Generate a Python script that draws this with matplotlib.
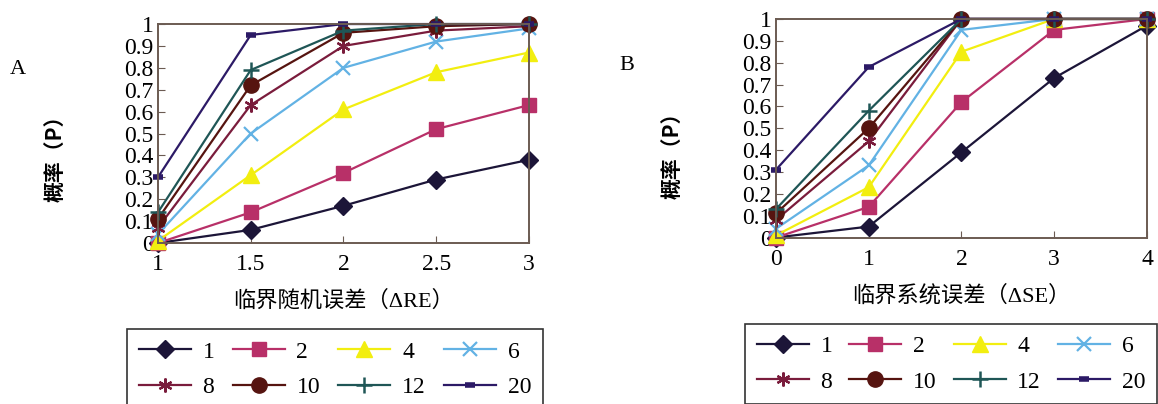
import numpy as np
import matplotlib.pyplot as plt
import matplotlib as mpl

# -----------------------
# Data
# -----------------------
SERIES = ["1", "2", "4", "6", "8", "10", "12", "20"]

X_RE = [1, 1.5, 2, 2.5, 3]
P_RE_1 = [0.0, 0.06, 0.17, 0.29, 0.38]
P_RE_2 = [0.0, 0.14, 0.32, 0.52, 0.63]
P_RE_4 = [0.01, 0.31, 0.61, 0.78, 0.87]
P_RE_6 = [0.04, 0.50, 0.80, 0.92, 0.98]
P_RE_8 = [0.07, 0.63, 0.90, 0.97, 0.99]
P_RE_10 = [0.11, 0.72, 0.96, 0.99, 1.0]
P_RE_12 = [0.14, 0.79, 0.97, 1.0, 1.0]
P_RE_20 = [0.30, 0.95, 1.0, 1.0, 1.0]

X_SE = [0, 1, 2, 3, 4]
P_SE_1 = [0.0, 0.05, 0.39, 0.73, 0.97]
P_SE_2 = [0.0, 0.14, 0.62, 0.95, 1.0]
P_SE_4 = [0.01, 0.23, 0.85, 1.0, 1.0]
P_SE_6 = [0.04, 0.33, 0.95, 1.0, 1.0]
P_SE_8 = [0.08, 0.44, 1.0, 1.0, 1.0]
P_SE_10 = [0.11, 0.50, 1.0, 1.0, 1.0]
P_SE_12 = [0.13, 0.58, 1.0, 1.0, 1.0]
P_SE_20 = [0.31, 0.78, 1.0, 1.0, 1.0]

RE_VALUES = [P_RE_1, P_RE_2, P_RE_4, P_RE_6, P_RE_8, P_RE_10, P_RE_12, P_RE_20]
SE_VALUES = [P_SE_1, P_SE_2, P_SE_4, P_SE_6, P_SE_8, P_SE_10, P_SE_12, P_SE_20]

# -----------------------
# Style
# -----------------------
COLORS = ["#1c1538", "#b83068", "#f2ee10", "#62b2e4",
          "#7a1c3c", "#561410", "#1f5656", "#2c1a66"]
MARKERS = ["D", "s", "^", "x", (6, 2, 0), "o", "+", "_"]
MSIZES = [9, 10, 11, 10, 10, 11, 12, 7]
MEW = [1, 1, 1, 1.6, 1.6, 1, 1.8, 4]
FRAME = "#6b5b52"

SERIF = ["Liberation Serif", "Noto Sans CJK SC"]
CJK = ["Noto Sans CJK SC", "Liberation Serif"]

mpl.rcParams.update({
    'font.family': SERIF,
    'font.size': 17,
    'xtick.direction': 'in',
    'ytick.direction': 'in',
    'xtick.major.size': 5,
    'ytick.major.size': 5,
    'xtick.color': FRAME,
    'ytick.color': FRAME,
    'xtick.labelcolor': 'black',
    'ytick.labelcolor': 'black',
})


def draw_panel(ax, x, values, xticks, xlabels):
    handles = []
    for vals, name, c, m, ms, mew in zip(values, SERIES, COLORS, MARKERS, MSIZES, MEW):
        h, = ax.plot(x, vals, color=c, lw=1.6, marker=m, ms=ms, mew=mew,
                     mec=c, mfc=c, clip_on=False, label=name)
        handles.append(h)
    ax.set_xlim(x[0], x[-1])
    ax.set_ylim(0, 1)
    ax.set_xticks(xticks)
    ax.set_xticklabels(xlabels)
    yt = np.round(np.arange(0, 1.01, 0.1), 1)
    ax.set_yticks(yt)
    ax.set_yticklabels(["0" if v == 0 else ("1" if v == 1 else f"{v:.1f}") for v in yt])
    ax.tick_params(axis='y', pad=3, labelsize=17)
    ax.tick_params(axis='x', pad=8, labelsize=17)
    for s in ax.spines.values():
        s.set_color(FRAME)
        s.set_linewidth(1.4)
    return handles


fig = plt.figure(figsize=(11.58, 4.04), dpi=100)
axA = fig.add_axes([0.1364, 0.3985, 0.3204, 0.542])
axB = fig.add_axes([0.6701, 0.4121, 0.3204, 0.541])

hA = draw_panel(axA, X_RE, RE_VALUES, X_RE, ["1", "1.5", "2", "2.5", "3"])
hB = draw_panel(axB, X_SE, SE_VALUES, X_SE, ["0", "1", "2", "3", "4"])

axA.set_xlabel("临界随机误差（ΔRE）", family=SERIF, fontsize=16, labelpad=11)
axB.set_xlabel("临界系统误差（ΔSE）", family=SERIF, fontsize=16, labelpad=11)

fig.text(55 / 1158, 1 - 153 / 404, "概率（P）", family=CJK, fontsize=15,
         fontweight='bold', rotation=90, ha='center', va='center')
fig.text(672 / 1158, 1 - 150 / 404, "概率（P）", family=CJK, fontsize=15,
         fontweight='bold', rotation=90, ha='center', va='center')
fig.text(18 / 1158, 1 - 70 / 404, "A", fontsize=16, ha='center', va='center')
fig.text(627 / 1158, 1 - 65 / 404, "B", fontsize=16, ha='center', va='center')

# legend is filled column by column; reorder so it reads row by row
ORDER = [0, 4, 1, 5, 2, 6, 3, 7]

for handles, box in [(hA, (127 / 1158, -0.02, 416 / 1158, 0.21)),
                     (hB, (745 / 1158, 0.0025, 412 / 1158, 0.193))]:
    leg = fig.legend(handles=[handles[i] for i in ORDER],
                     labels=[SERIES[i] for i in ORDER], ncol=4, loc='center',
                     bbox_to_anchor=box, mode='expand', fancybox=False,
                     edgecolor='black', handlelength=2.2, handletextpad=0.5,
                     labelspacing=0.6, borderaxespad=0, borderpad=0.5,
                     fontsize=17, columnspacing=0.8)
    leg.get_frame().set_linewidth(1.2)

fig.savefig("out.png", dpi=100)
